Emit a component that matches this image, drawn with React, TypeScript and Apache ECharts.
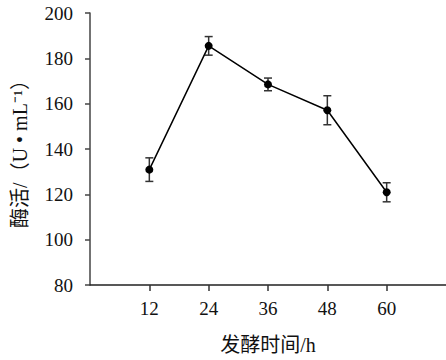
import React, { useEffect, useRef } from "react";
import * as echarts from "echarts";

const hours = [12, 24, 36, 48, 60];
const activity = [130.9, 185.5, 168.5, 157.1, 120.9];
const errors = [5.2, 4.1, 2.8, 6.4, 4.2];
const yTicks = [80, 100, 120, 140, 160, 180, 200];

const FONT = "'Liberation Serif', 'Times New Roman', 'Noto Sans CJK SC', serif";

export default function App() {
  const ref = useRef<HTMLDivElement>(null);
  useEffect(() => {
    if (!ref.current) return;
    const chart = echarts.init(ref.current, null, { renderer: "svg" });
    const errData = hours.map((h, i) => [h, activity[i] - errors[i], activity[i] + errors[i]]);
    chart.setOption({
      animation: false,
      backgroundColor: "#fff",
      grid: { left: 90, right: 0, top: 13, bottom: 73, containLabel: false },
      xAxis: {
        type: "value",
        min: 0,
        max: 72,
        interval: 12,
        name: "发酵时间/h",
        nameLocation: "middle",
        nameGap: 50,
        nameTextStyle: { fontFamily: FONT, fontSize: 20, color: "#111" },
        axisLine: { show: true, lineStyle: { color: "#222", width: 1.5 } },
        axisTick: { show: true, length: 6, inside: false, customValues: hours, lineStyle: { color: "#333", width: 1.5 } },
        axisLabel: { customValues: hours, margin: 14, fontFamily: FONT, fontSize: 19, color: "#111" },
        splitLine: { show: false },
      },
      yAxis: {
        type: "value",
        min: yTicks[0],
        max: yTicks[yTicks.length - 1],
        interval: 20,
        name: "酶活/（U • mL⁻¹）",
        nameLocation: "middle",
        nameGap: 60,
        nameTextStyle: { fontFamily: FONT, fontSize: 20, color: "#111" },
        axisLine: { show: true, lineStyle: { color: "#444", width: 1.5 } },
        axisTick: { show: true, length: 5, inside: false, lineStyle: { color: "#444", width: 1.5 } },
        axisLabel: { margin: 17, fontFamily: FONT, fontSize: 19, color: "#111" },
        splitLine: { show: false },
      },
      series: [
        {
          type: "custom",
          z: 1,
          data: errData,
          renderItem: (params: any, api: any) => {
            const x = api.value(0);
            const lo = api.coord([x, api.value(1)]);
            const hi = api.coord([x, api.value(2)]);
            const w = 4;
            const style = { stroke: "#333", lineWidth: 1.5 };
            return {
              type: "group",
              children: [
                { type: "line", shape: { x1: lo[0], y1: lo[1], x2: hi[0], y2: hi[1] }, style },
                { type: "line", shape: { x1: lo[0] - w, y1: lo[1], x2: lo[0] + w, y2: lo[1] }, style },
                { type: "line", shape: { x1: hi[0] - w, y1: hi[1], x2: hi[0] + w, y2: hi[1] }, style },
              ],
            };
          },
        },
        {
          type: "line",
          z: 3,
          data: hours.map((h, i) => [h, activity[i]]),
          symbol: "circle",
          symbolSize: 8,
          itemStyle: { color: "#000" },
          lineStyle: { color: "#000", width: 1.5 },
        },
      ],
    });
    return () => chart.dispose();
  }, []);
  return <div ref={ref} style={{ width: 446, height: 360, position: "absolute", left: 0, top: 0 }} />;
}
